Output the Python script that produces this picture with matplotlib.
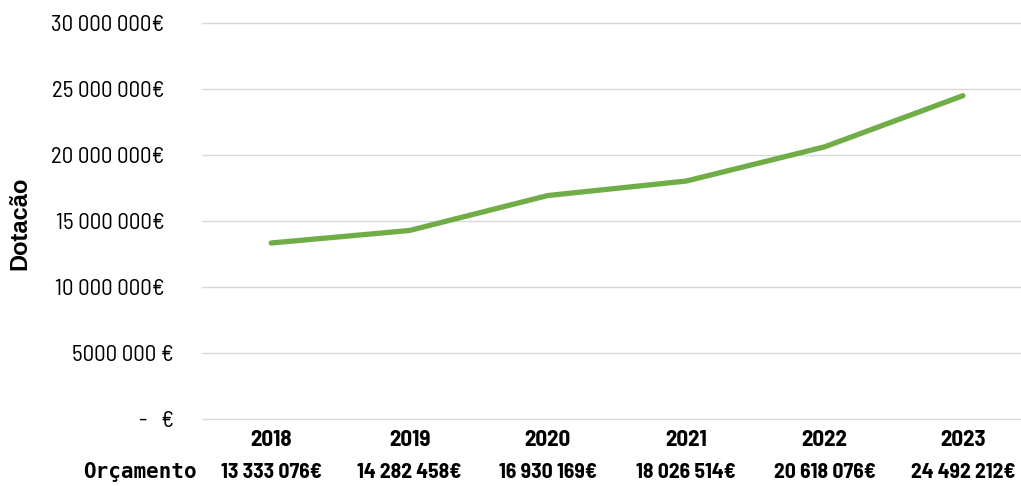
import matplotlib.pyplot as plt
from matplotlib.transforms import ScaledTranslation

# Data
years = ["2018", "2019", "2020", "2021", "2022", "2023"]
budget = [13333076, 14282458, 16930169, 18026514, 20618076, 24492212]
budget_labels = ["13 333 076€", "14 282 458€", "16 930 169€",
                 "18 026 514€", "20 618 076€", "24 492 212€"]
yticks = [0, 5000000, 10000000, 15000000, 20000000, 25000000, 30000000]
ytick_labels = ["-   €", "5000 000 €", "10 000 000€", "15 000 000€",
                "20 000 000€", "25 000 000€", "30 000 000€"]

semi = ['Barlow Semi Condensed', 'DejaVu Sans']
plt.rcParams['font.family'] = semi

W, H = 1021, 486
fig = plt.figure(figsize=(W / 100, H / 100), dpi=100)
ax = fig.add_axes([202 / W, 67 / H, (1021 - 202) / W, 396 / H])

x = list(range(len(years)))
ax.plot(x, budget, color="#70AD47", lw=3.8, solid_capstyle="round")

ax.set_ylim(0, 30000000)
ax.set_xlim(-0.5, 5.42)
ax.set_yticks(yticks)
ax.set_yticklabels(ytick_labels, fontsize=16.5)
ax.tick_params(axis="y", length=0, pad=27)
ax.yaxis.grid(True, color="#d9d9d9", lw=1)
for g in ax.get_ygridlines():
    g.set_clip_on(False)
ax.set_axisbelow(True)
for s in ax.spines.values():
    s.set_visible(False)

# accounting-style labels sit a bit further right
for lab in ax.get_yticklabels()[:2]:
    lab.set_transform(lab.get_transform() + ScaledTranslation(7 / 72, 0, fig.dpi_scale_trans))

ax.set_xticks(x)
ax.set_xticklabels(years, fontsize=16.5, fontweight="bold")
ax.tick_params(axis="x", length=0, pad=8)

# budget row
for i, lab in enumerate(budget_labels):
    ax.text(i, -0.134, lab, transform=ax.get_xaxis_transform(), ha="center", va="center",
            fontsize=15.5, fontweight="bold")
ax.text(-0.5 - 0.035, -0.134, "Orçamento", transform=ax.get_xaxis_transform(),
        ha="right", va="center", fontsize=15, fontweight="bold",
        family=["DejaVu Sans Mono"])

fig.text(20 / W, 1 - 223 / H, "Dotacão", rotation=90, ha="center", va="center",
         fontsize=17, fontweight="bold", family=["Liberation Sans", "DejaVu Sans"])

fig.savefig("out.png", dpi=100)
